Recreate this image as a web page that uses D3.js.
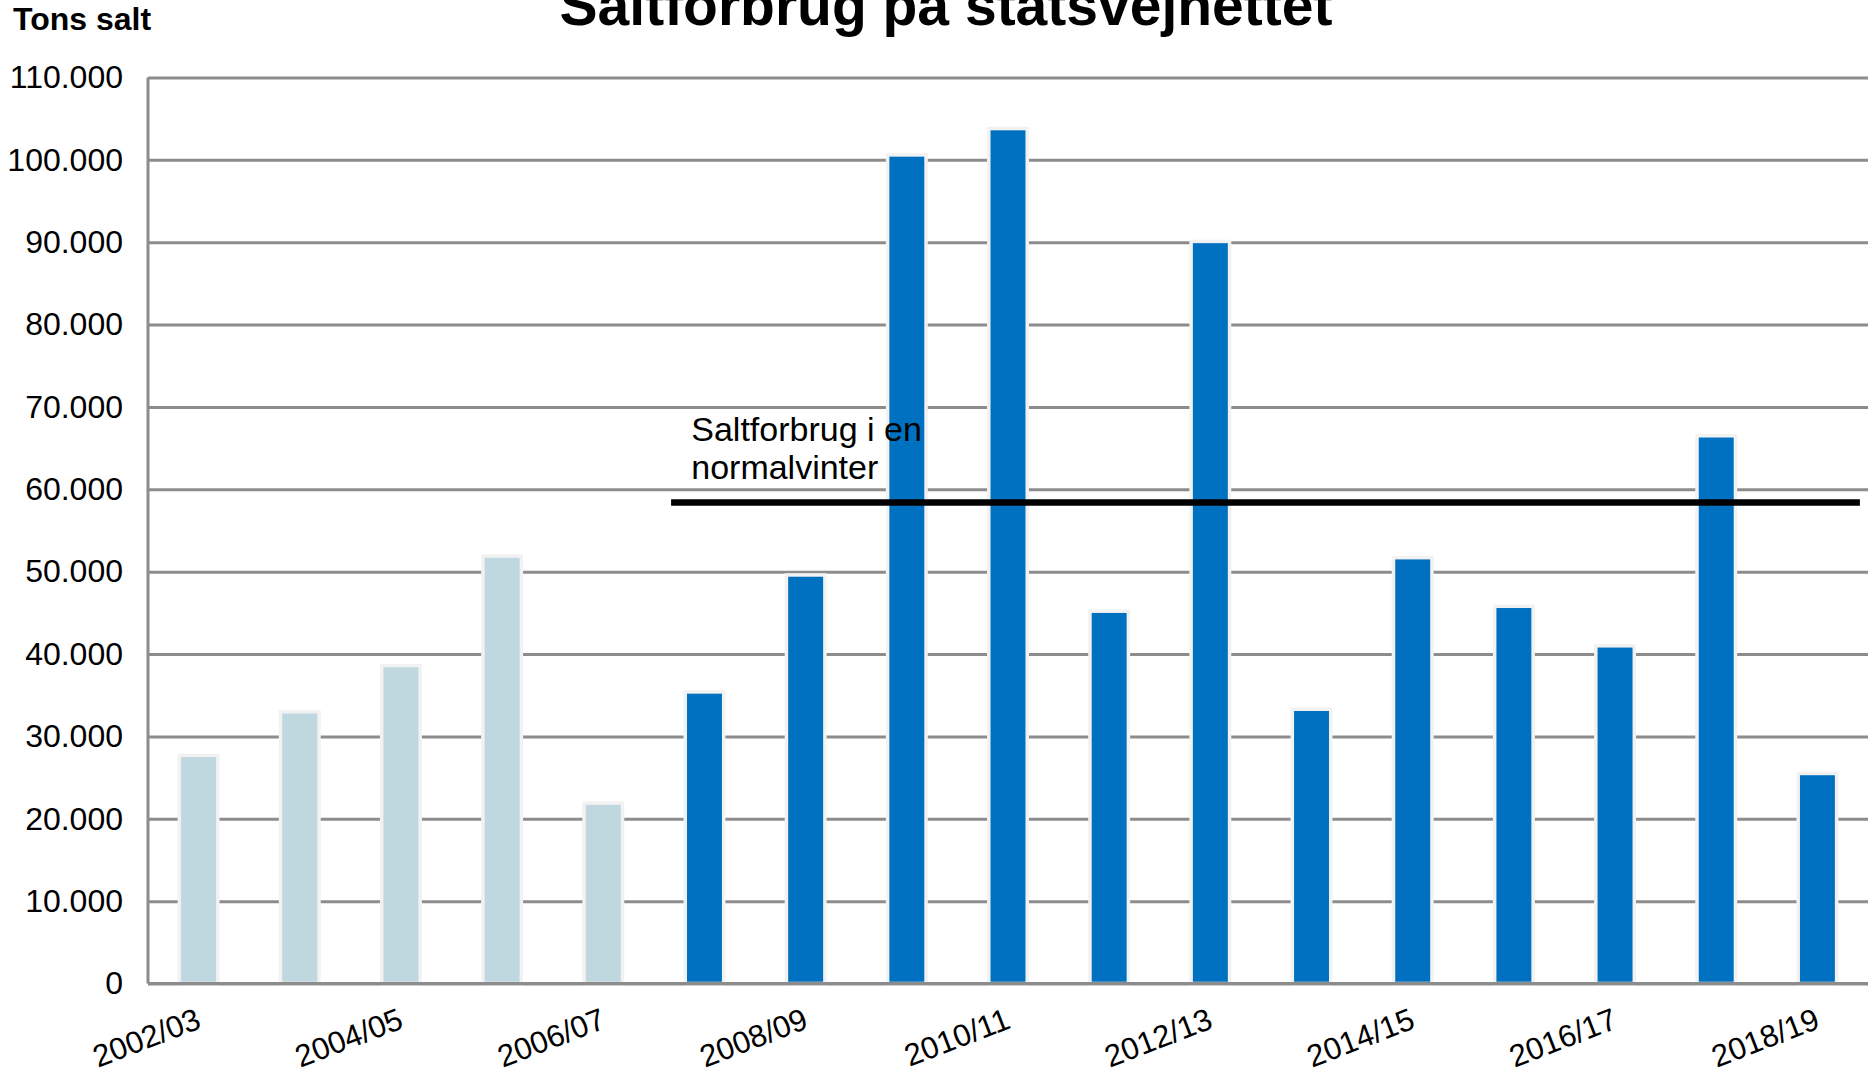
<!DOCTYPE html>
<html>
<head>
<meta charset="utf-8">
<script src="https://cdn.jsdelivr.net/npm/d3@7"></script>
<style>
  body { margin: 0; background: #fff; }
  svg { display: block; font-family: "Liberation Sans", Arial, sans-serif; }
</style>
</head>
<body>
<svg id="chart" width="1872" height="1076"></svg>
<script>
// seasons shown on the x axis
const seasons = ["2002/03", "2003/04", "2004/05", "2005/06", "2006/07", "2007/08", "2008/09",
  "2009/10", "2010/11", "2011/12", "2012/13", "2013/14", "2014/15", "2015/16", "2016/17",
  "2017/18", "2018/19"];
// tons of salt per season
const saltTons = [27700, 33000, 38600, 51900, 21900, 35400, 49600, 100600, 103800, 45200,
  90100, 33300, 51700, 45800, 41000, 66500, 25500];
// older seasons drawn in the pale colour
const oldSeasons = ["2002/03", "2003/04", "2004/05", "2005/06", "2006/07"];
const yTicks = [0, 10000, 20000, 30000, 40000, 50000, 60000, 70000, 80000, 90000, 100000, 110000];
const xLabels = ["2002/03", "2004/05", "2006/07", "2008/09", "2010/11", "2012/13", "2014/15", "2016/17", "2018/19"];
// normal winter reference line
const normalValue = 58400;
const normalFrom = "2007/08";
const normalText = ["Saltforbrug i en", "normalvinter"];

const data = seasons.map((s, i) => ({season: s, tons: saltTons[i]}));

const svg = d3.select("#chart");
const plotLeft = 148, plotRight = 1868, plotTop = 77.5, plotBottom = 983.5;

const x = d3.scaleBand()
  .domain(seasons)
  .range([plotLeft, plotRight])
  .paddingInner(0.62)
  .paddingOuter(0.31);

const y = d3.scaleLinear()
  .domain([0, 110000])
  .range([plotBottom, plotTop]);

const dk = d3.formatLocale({decimal: ",", thousands: ".", grouping: [3], currency: ["", " kr"]});
const fmt = dk.format(",");

// gridlines + y labels
const yAxis = svg.append("g")
  .attr("transform", "translate(" + plotLeft + ",0)")
  .call(d3.axisLeft(y).tickValues(yTicks).tickSize(-(plotRight - plotLeft)).tickPadding(25).tickFormat(fmt));
yAxis.select(".domain").remove();
yAxis.selectAll(".tick line").attr("stroke", "#8c8c8c").attr("stroke-width", 3);
yAxis.selectAll(".tick text")
  .attr("fill", "#000")
  .style("font-size", "32px")
  .style("font-family", "'Liberation Sans', Arial, sans-serif");

// y axis line
svg.append("line")
  .attr("x1", plotLeft).attr("x2", plotLeft)
  .attr("y1", y(110000)).attr("y2", y(0))
  .attr("stroke", "#8c8c8c").attr("stroke-width", 3);

// bars
svg.selectAll("rect.bar")
  .data(data)
  .enter()
  .append("rect")
    .attr("class", "bar")
    .attr("x", d => x(d.season))
    .attr("y", d => y(d.tons))
    .attr("width", x.bandwidth())
    .attr("height", d => y(0) - y(d.tons))
    .attr("fill", d => oldSeasons.includes(d.season) ? "#bfd7de" : "#0070c0")
    .attr("stroke", "#f2f2f2")
    .attr("stroke-width", 3.5);

// zero axis line on top of bar borders
svg.append("line")
  .attr("x1", plotLeft).attr("x2", plotRight)
  .attr("y1", y(0)).attr("y2", y(0))
  .attr("stroke", "#8c8c8c").attr("stroke-width", 3);

// x labels
const xAxis = svg.append("g")
  .attr("transform", "translate(0," + plotBottom + ")")
  .call(d3.axisBottom(x).tickValues(xLabels).tickSize(0));
xAxis.select(".domain").remove();
xAxis.selectAll(".tick text")
  .attr("y", 0)
  .attr("dy", 0)
  .attr("fill", "#000")
  .attr("text-anchor", "end")
  .attr("transform", "translate(4,44) rotate(-21)")
  .style("font-size", "31px")
  .style("font-family", "'Liberation Sans', Arial, sans-serif");

// normal winter line
const step = x.step();
svg.append("line")
  .attr("x1", x(normalFrom) - step * 0.14)
  .attr("x2", plotRight - step * 0.08)
  .attr("y1", y(normalValue)).attr("y2", y(normalValue))
  .attr("stroke", "#000").attr("stroke-width", 6.5);

svg.append("text")
  .attr("x", x(normalFrom) + 6)
  .attr("y", 441)
  .style("font-size", "34px")
  .selectAll("tspan")
  .data(normalText)
  .enter()
  .append("tspan")
    .attr("x", x(normalFrom) + 6)
    .attr("dy", (d, i) => i === 0 ? 0 : 38)
    .text(d => d);

// titles
svg.append("text")
  .attr("x", 946)
  .attr("y", 25)
  .attr("text-anchor", "middle")
  .style("font-size", "57px")
  .style("font-weight", "bold")
  .text("Saltforbrug på statsvejnettet");

svg.append("text")
  .attr("x", 13)
  .attr("y", 30)
  .style("font-size", "32px")
  .style("font-weight", "bold")
  .text("Tons salt");
</script>
</body>
</html>
